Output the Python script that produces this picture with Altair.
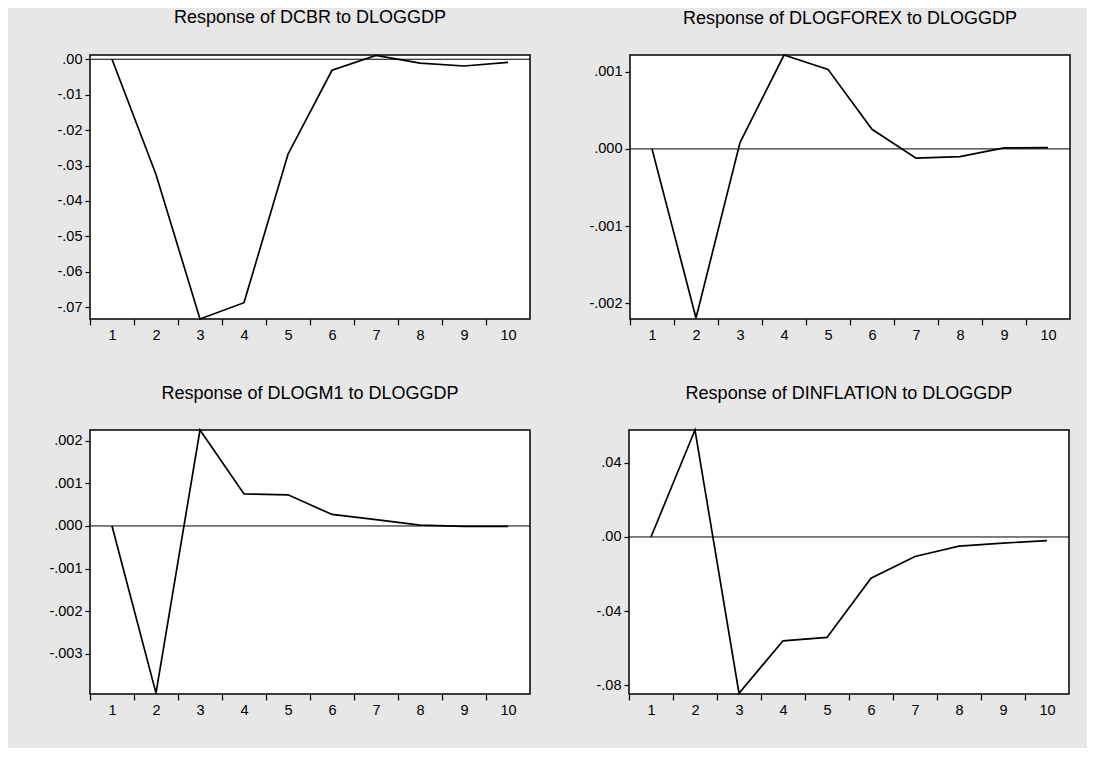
import altair as alt
import pandas as pd

steps = [1, 2, 3, 4, 5, 6, 7, 8, 9, 10]

titles = [
    "Response of DCBR to DLOGGDP",
    "Response of DLOGFOREX to DLOGGDP",
    "Response of DLOGM1 to DLOGGDP",
    "Response of DINFLATION to DLOGGDP",
]

dcbr = [0.0, -0.0325, -0.0733, -0.0687, -0.0268, -0.0031, 0.0011, -0.0011, -0.0019, -0.0009]
dlogforex = [0.0, -0.00219, 0.000082, 0.001216, 0.00103, 0.000254, -0.00012, -0.0001, 0.000013, 0.000017]
dlogm1 = [0.0, -0.00392, 0.00225, 0.00075, 0.00073, 0.00027, 0.00015, 0.00002, -0.00001, -0.00001]
dinflation = [0.0, 0.0577, -0.0843, -0.056, -0.0542, -0.0222, -0.0105, -0.0049, -0.0033, -0.002]

series = [dcbr, dlogforex, dlogm1, dinflation]

y_domains = [
    [-0.0733, 0.0012],
    [-0.002203, 0.001216],
    [-0.00394, 0.00225],
    [-0.0847, 0.0577],
]
y_ticks = [
    [0.0, -0.01, -0.02, -0.03, -0.04, -0.05, -0.06, -0.07],
    [0.001, 0.0, -0.001, -0.002],
    [0.002, 0.001, 0.0, -0.001, -0.002, -0.003],
    [0.04, 0.0, -0.04, -0.08],
]
y_formats = [".2f", ".3f", ".3f", ".2f"]

W, H = 440, 264
HALF_BAND = W / 20
FONT = "Liberation Sans"


def panel(i):
    df = pd.DataFrame({"step": steps, "value": series[i]})
    zdf = pd.DataFrame({"zero": [0.0]})
    x_axis = alt.Axis(
        values=steps,
        title=None,
        grid=False,
        domain=False,
        tickSize=6,
        tickColor="black",
        tickWidth=1.2,
        tickOffset=-HALF_BAND,
        labelOffset=HALF_BAND,
        labelFlush=False,
        labelFont=FONT,
        labelFontSize=14.5,
        labelColor="black",
        labelPadding=3,
        minExtent=25,
        maxExtent=25,
    )
    y_axis = alt.Axis(
        values=y_ticks[i],
        title=None,
        grid=False,
        domain=False,
        format=y_formats[i],
        labelExpr="replace(replace(datum.label, '\u2212', '-'), '0.', '.')",
        tickSize=5,
        tickColor="black",
        tickWidth=1.2,
        labelFont=FONT,
        labelFontSize=14.5,
        labelColor="black",
        labelPadding=3,
        labelOverlap=False,
        minExtent=40,
        maxExtent=40,
    )
    x_scale = alt.Scale(domain=[0.5, 10.5], nice=False, zero=False)
    y_scale = alt.Scale(domain=y_domains[i], nice=False, zero=False)
    line = alt.Chart(df).mark_line(color="black", strokeWidth=1.7).encode(
        x=alt.X("step:Q", scale=x_scale, axis=x_axis),
        y=alt.Y("value:Q", scale=y_scale, axis=y_axis),
    )
    zero = alt.Chart(zdf).mark_rule(color="black", strokeWidth=1).encode(
        y=alt.Y("zero:Q", scale=y_scale, axis=y_axis),
    )
    return alt.layer(zero, line).properties(
        width=W,
        height=H,
        title=alt.TitleParams(
            titles[i],
            font=FONT,
            fontSize=18,
            fontWeight="normal",
            color="black",
            anchor="middle",
            offset=24,
        ),
    )


top = alt.hconcat(panel(0), panel(1), spacing=56)
bottom = alt.hconcat(panel(2), panel(3), spacing=56)
chart = (
    alt.vconcat(top, bottom, spacing=38)
    .properties(padding={"left": 40, "top": 0, "right": 15, "bottom": 28})
    .configure(background="#e7e7e7")
    .configure_view(stroke="black", strokeWidth=1.5, fill="white")
)

chart.save("out.html", embed_options={"renderer": "svg", "actions": False})
